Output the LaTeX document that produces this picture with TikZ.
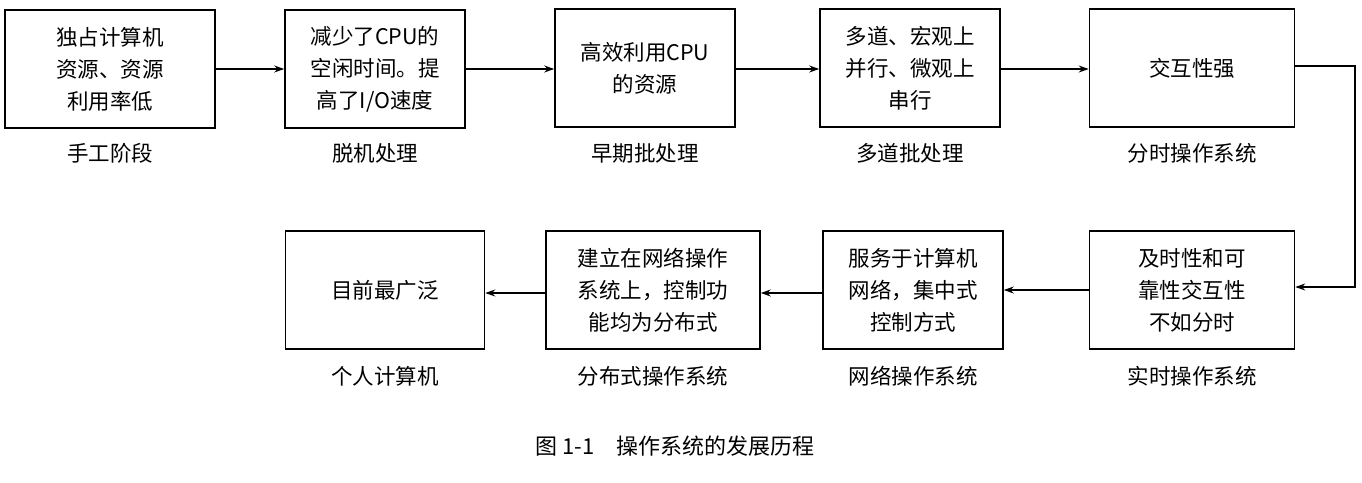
\documentclass[tikz,border=0pt]{standalone}
\usepackage{fontspec}
\setmainfont{Liberation Serif}
\newfontfamily\cjk{Noto Sans CJK SC}
\usetikzlibrary{arrows.meta}
\begin{document}
\begin{tikzpicture}[x=1pt,y=-1pt,
  box/.style={draw,line width=1.6pt,minimum height=118pt,align=center,font=\cjk\fontsize{21.5}{32}\selectfont,inner sep=0pt},
  lab/.style={font=\cjk\fontsize{21.5}{24}\selectfont},
  arr/.style={-{Stealth[length=10pt,width=7pt]},line width=1.2pt}]
\useasboundingbox (0,0) rectangle (1362,482);
\node[box,minimum width=210pt] (b1) at (110,69) {独占计算机\\资源、资源\\利用率低};
\node[box,minimum width=180pt] (b2) at (375,69) {减少了CPU的\\空闲时间。提\\高了I/O速度};
\node[box,minimum width=180pt] (b3) at (645,68) {高效利用CPU\\的资源};
\node[box,minimum width=180pt] (b4) at (910,68) {多道、宏观上\\并行、微观上\\串行};
\node[box,minimum width=205pt] (b5) at (1192,68) {交互性强};
\node[box,minimum width=205pt] (b6) at (1192,290) {及时性和可\\靠性交互性\\不如分时};
\node[box,minimum width=180pt] (b7) at (913,290) {服务于计算机\\网络，集中式\\控制方式};
\node[box,minimum width=214pt] (b8) at (653,290) {建立在网络操作\\系统上，控制功\\能均为分布式};
\node[box,minimum width=199pt] (b9) at (385,290) {目前最广泛};
\node[lab] (l1) at (110,153) {手工阶段};
\node[lab] (l2) at (375,153) {脱机处理};
\node[lab] (l3) at (645,153) {早期批处理};
\node[lab] (l4) at (910,153) {多道批处理};
\node[lab] (l5) at (1192,153) {分时操作系统};
\node[lab] (l6) at (1192,376) {实时操作系统};
\node[lab] (l7) at (913,376) {网络操作系统};
\node[lab] (l8) at (653,376) {分布式操作系统};
\node[lab] (l9) at (385,376) {个人计算机};
\node[font=\cjk\fontsize{22}{24}\selectfont] (cap) at (675,446) {图 1-1\quad 操作系统的发展历程};
\draw[arr] (b1.east|-0,69) -- (b2.west|-0,69);
\draw[arr] (b2.east|-0,69) -- (b3.west|-0,69);
\draw[arr] (b3.east|-0,69) -- (b4.west|-0,69);
\draw[arr] (b4.east|-0,69) -- (b5.west|-0,69);
\coordinate (c1) at (1355,66);
\coordinate (c2) at (1355,287);
\draw[arr] (b5.east|-c1) -- (c1) -- (c2) -- (b6.east|-c2);
\draw[arr] (b6.west|-0,290) -- (b7.east|-0,290);
\draw[arr] (b7.west|-0,293) -- (b8.east|-0,293);
\draw[arr] (b8.west|-0,293) -- (b9.east|-0,293);
\end{tikzpicture}
\end{document}
